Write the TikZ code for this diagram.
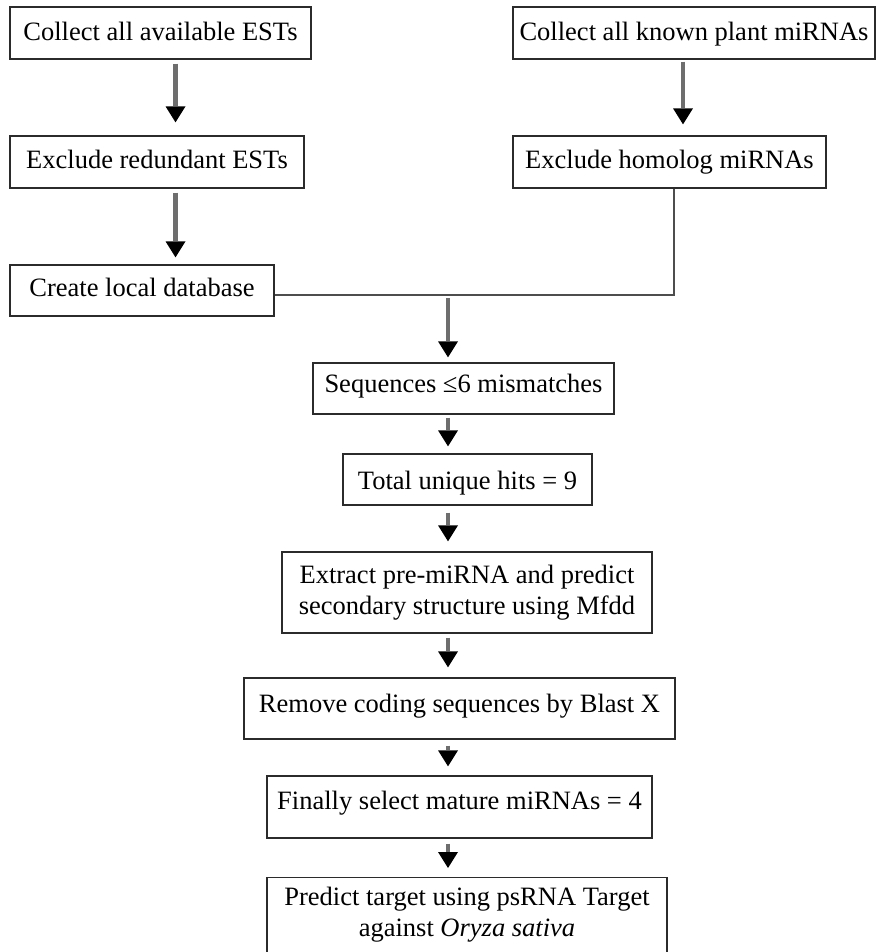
\documentclass[tikz,border=0pt]{standalone}
\usepackage{fontspec}
\setmainfont{Liberation Serif}
\usetikzlibrary{arrows.meta}
\definecolor{tinta}{HTML}{2B2B2B}
\definecolor{gristrazo}{HTML}{4D4D4D}
\definecolor{grisflecha}{HTML}{6E6E6E}
\tikzset{
  caja/.style={rectangle,draw=tinta,line width=1.3pt,fill=white,inner sep=0pt,align=center,text height=18,text depth=6,font=\fontsize{26.5}{31}\selectfont},
  flecha/.style={draw=grisflecha,line width=4.5pt,-{Triangle[width=20pt,length=16pt,line width=0pt,color=black]}},
  conector/.style={draw=gristrazo,line width=1.7pt},
}
\begin{document}
\begin{tikzpicture}[x=1pt,y=-1pt]
\useasboundingbox (0,0) rectangle (876,952);
\clip (0,0) rectangle (876,952);
\coordinate (c1) at (160.5,33);
\coordinate (c2) at (694,33);
\coordinate (c3) at (157,162);
\coordinate (c4) at (669.5,162);
\coordinate (c5) at (142,290.5);
\coordinate (c6) at (463.5,388.5);
\coordinate (c7) at (467.5,479.5);
\coordinate (c8) at (467,592.5);
\coordinate (c9) at (459.5,708.5);
\coordinate (c10) at (459.5,807);
\coordinate (c11) at (467,877);
\coordinate (ejeA) at (175.5,0);
\coordinate (ejeB) at (683,0);
\coordinate (merge) at (448,295);
\node[caja,minimum width=301,minimum height=52,text height=22] (ests) at (c1) {Collect all available ESTs};
\node[caja,minimum width=362,minimum height=52,text height=22] (mirnas) at (c2) {Collect all known plant miRNAs};
\node[caja,minimum width=294,minimum height=52] (redund) at (c3) {Exclude redundant ESTs};
\node[caja,minimum width=313,minimum height=52] (homolog) at (c4) {Exclude homolog miRNAs};
\node[caja,minimum width=264,minimum height=51] (dbase) at (c5) {Create local database};
\node[caja,minimum width=301,minimum height=51,text depth=10] (seqs) at (c6) {Sequences ≤6 mismatches};
\node[caja,minimum width=249,minimum height=51,text height=25] (hits) at (c7) {Total unique hits = 9};
\node[caja,minimum width=370,minimum height=81,text height=,text depth=] (premirna) at (c8) {Extract pre-miRNA and predict\\ secondary structure using Mfdd};
\node[caja,minimum width=431,minimum height=61,text depth=11] (blastx) at (c9) {Remove coding sequences by Blast X};
\node[caja,minimum width=385,text height=33,text depth=29] (mature) at (c10) {Finally select mature miRNAs = 4};
\node[caja,minimum width=400,anchor=north,inner ysep=10pt,text height=18,text depth=60] (target) at (c11) {\begin{tabular}[t]{@{}c@{}}Predict target using psRNA Target\\ against \textit{Oryza sativa}\end{tabular}};
\draw[conector] ([xshift=4.5pt]homolog.south) |- ([yshift=-4.5pt]dbase.east);
\draw[flecha,shorten <=4pt,shorten >=13pt] (ests.south -| ejeA) -- (redund.north -| ejeA);
\draw[flecha,shorten <=4pt,shorten >=7pt] (redund.south -| ejeA) -- (dbase.north -| ejeA);
\draw[flecha,shorten <=2pt,shorten >=11pt] (mirnas.south -| ejeB) -- (homolog.north -| ejeB);
\draw[flecha,shorten <=3pt,shorten >=5pt] (merge) -- (seqs.north -| merge);
\draw[flecha,shorten <=3pt,shorten >=7pt] (seqs.south -| merge) -- (hits.north -| merge);
\draw[flecha,shorten <=7pt,shorten >=10pt] (hits.south -| merge) -- (premirna.north -| merge);
\draw[flecha,shorten <=4pt,shorten >=10pt] (premirna.south -| merge) -- (blastx.north -| merge);
\draw[flecha,shorten <=6pt,shorten >=9pt] (blastx.south -| merge) -- (mature.north -| merge);
\draw[flecha,shorten <=5pt,shorten >=9pt] (mature.south -| merge) -- (target.north -| merge);
\end{tikzpicture}
\end{document}
